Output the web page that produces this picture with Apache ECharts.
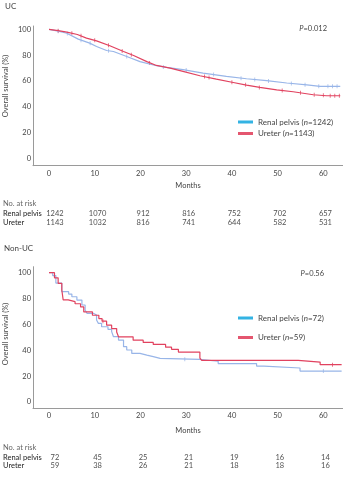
<!DOCTYPE html>
<html>
<head>
<meta charset="utf-8">
<script src="https://cdn.jsdelivr.net/npm/echarts@6/dist/echarts.min.js"></script>
<style>
  html, body { margin: 0; padding: 0; background: #fff; }
  #chart { width: 343px; height: 477px; }
</style>
</head>
<body>
<div id="chart"></div>
<script>
const FONT = 'Lato, sans-serif';
const monthTicks = [0, 10, 20, 30, 40, 50, 60];
const survTicks = [0, 20, 40, 60, 80, 100];
const groups = ['Renal pelvis', 'Ureter'];

// UC curves [month, survival %]
const ucPelvis = [[0,100],[2,98.6],[3.9,97],[6.4,92.4],[8.9,89.3],[10.4,86.7],[12.6,83.6],[14.1,82.8],[17,78.9],[19.9,75],[23.5,71.8],[25.7,70.5],[29.3,68.7],[33.7,66.1],[38.8,63.5],[43.2,61.7],[47.6,60.2],[52,58.4],[56.4,56.9],[59.3,55.8],[63.7,55.8]];
const ucUreter = [[0,100],[2,99],[3.9,97.8],[6.2,96],[8.2,93.2],[10.4,91.1],[13.3,87.3],[16.3,82.8],[18.5,79.7],[21.4,75],[23.5,72],[26.5,69.9],[29.3,67.4],[33,64],[36.6,61.4],[40.3,58.8],[43.2,56.8],[46.1,55],[49.8,53.1],[53.4,51.6],[57.8,49.3],[60.7,48.5],[63.7,48.5]];
const ucPelvisCens = [[2,98.6],[4,96.8],[7,91.6],[9,89.2],[13,83.4],[17,78.9],[25,70.8],[30,68.4],[36,64.9],[42,62.1],[45,61.2],[48,60],[53,58.1],[56,57],[59,55.9],[61,55.8],[62,55.8],[63,55.8]];
const ucUreterCens = [[2,99],[5,96.9],[7,95],[10,91.5],[13,87.7],[16,83.2],[18,80.3],[22,74],[34,63.4],[35,62.7],[40,59],[43,57],[46,55],[51,52.6],[55,50.8],[58,49.2],[60,48.8],[61.5,48.5],[62.5,48.5],[63.5,48.5]];

// Non-UC curves (step)
const nonPelvis = [[0,100],[0.8,97.8],[1.5,92],[2.8,85.3],[4.3,83.5],[5,81.4],[6.1,78.8],[7.2,75],[7.9,71.1],[8.3,68.6],[9.7,67.3],[10.4,63.4],[10.8,60.8],[11.5,58.2],[12.9,56.2],[13.7,54.4],[14.1,50.5],[15.2,47.9],[16.3,42.8],[17,40.2],[18.1,37.6],[19.9,36.3],[21.4,35.1],[22.8,33.8],[24.3,33],[33,31.5],[37,29.7],[45.4,27.8],[47,26.3],[54.9,23.9],[64,23.9]];
const nonUreter = [[0,100],[1.2,96],[2,91.8],[2.8,86.6],[3.1,79],[4.2,77.6],[5.7,76],[6.9,73.5],[7.6,69.7],[9.5,67.1],[10.9,64.5],[11.6,62.5],[12.6,59.4],[13.7,56.8],[14.8,54.2],[15.2,50.4],[18.4,47.8],[20.6,46.1],[22.8,44.5],[25.5,42.4],[26.8,40.7],[28.3,38.6],[33,34],[33.4,32.2],[54.5,30.9],[59.3,28.9],[64,28.9]];
const nonPelvisCens = [[29.7,33],[60,23.9]];
const nonUreterCens = [[11.8,62.5],[62,28.9]];

// numbers at risk
const riskUcPelvis = [1242, 1070, 912, 816, 752, 702, 657];
const riskUcUreter = [1143, 1032, 816, 741, 644, 582, 531];
const riskNonPelvis = [72, 45, 25, 21, 19, 16, 14];
const riskNonUreter = [59, 38, 26, 21, 18, 18, 16];

const nameUc = ['Renal pelvis (n=1242)', 'Ureter (n=1143)'];
const nameNon = ['Renal pelvis (n=72)', 'Ureter (n=59)'];

const blue = '#98b5e8', red = '#e1425f';
const legBlue = '#33b3e3', legRed = '#e4566f';
const txt = '#444';

const chart = echarts.init(document.getElementById('chart'));

function plotX(grid, nameGap) {
  return {
    gridIndex: grid, type: 'value', min: -3.5, max: 64.3,
    name: 'Months', nameLocation: 'middle', nameGap: nameGap,
    nameTextStyle: { fontSize: 7.5, color: txt, fontFamily: FONT },
    axisLine: { show: true, onZero: false, lineStyle: { color: '#9a9a9a', width: 1 } },
    axisTick: { show: false }, splitLine: { show: false },
    axisLabel: { customValues: monthTicks, margin: 4, fontSize: 7.5, color: txt, fontFamily: FONT }
  };
}
function plotY(grid, min, max) {
  return {
    gridIndex: grid, type: 'value', min: min, max: max,
    axisLine: { show: true, onZero: false, lineStyle: { color: '#9a9a9a', width: 1 } },
    axisTick: { show: false }, splitLine: { show: false },
    axisLabel: { customValues: survTicks, margin: 2, fontSize: 7.5, color: txt, fontFamily: FONT }
  };
}
function riskX(grid) {
  return { gridIndex: grid, type: 'value', min: -3.5, max: 64.3, show: false };
}
function riskY(grid) {
  return {
    gridIndex: grid, type: 'category', data: groups, inverse: true,
    axisLine: { show: false }, axisTick: { show: false }, splitLine: { show: false },
    axisLabel: { interval: 0, align: 'left', margin: 31, fontSize: 7.5, color: '#222', fontFamily: FONT }
  };
}
function curve(name, data, color, xi, step) {
  return {
    name: name, type: 'line', xAxisIndex: xi, yAxisIndex: xi, data: data,
    step: step ? 'end' : false, showSymbol: false, silent: true,
    lineStyle: { color: color, width: 1.2 }, itemStyle: { color: color }
  };
}
function cens(name, data, color, xi) {
  return {
    name: name, type: 'scatter', xAxisIndex: xi, yAxisIndex: xi, data: data,
    symbol: 'rect', symbolSize: [0.9, 4], silent: true, itemStyle: { color: color }
  };
}
function risk(name, counts, row, xi) {
  return {
    name: name, type: 'scatter', xAxisIndex: xi, yAxisIndex: xi, symbolSize: 0, silent: true,
    data: counts.map((c, i) => ({
      value: [monthTicks[i], row, c],
      label: { offset: [i === 0 ? 5 : 2, 0] }
    })),
    label: {
      show: true, position: 'inside', formatter: p => p.value[2],
      fontSize: 7.5, color: '#222', fontFamily: FONT
    }
  };
}
function legend(names, top, gap) {
  return {
    orient: 'vertical', left: 233, top: top, itemWidth: 15, itemHeight: 3, icon: 'rect',
    itemGap: gap, selectedMode: false,
    data: [
      { name: names[0], itemStyle: { color: legBlue } },
      { name: names[1], itemStyle: { color: legRed } }
    ],
    formatter: n => n.replace('(n=', '({i|n}='),
    textStyle: {
      fontSize: 8, color: txt, fontFamily: FONT,
      rich: { i: { fontStyle: 'italic', fontSize: 8, color: txt, fontFamily: FONT } }
    }
  };
}
function label(text, left, top, extra) {
  return Object.assign({
    text: text, left: left, top: top, padding: 0,
    textStyle: {
      fontSize: 7.5, fontWeight: 'normal', color: txt, fontFamily: FONT,
      rich: { i: { fontStyle: 'italic', fontSize: 7.5, color: txt, fontFamily: FONT } }
    }
  }, extra || {});
}

chart.setOption({
  animation: false,
  title: [
    label('UC', 5, 2, { textStyle: { fontSize: 8, fontWeight: 'normal', color: txt, fontFamily: FONT } }),
    label('Non-UC', 4, 244, { textStyle: { fontSize: 8, fontWeight: 'normal', color: txt, fontFamily: FONT } }),
    label('{i|P}=0.012', null, 25, { right: 16 }),
    label('{i|P}=0.56', null, 270, { right: 19 }),
    label('No. at risk', 3, 200, { textStyle: { fontSize: 7.5, color: '#666', fontFamily: FONT, fontWeight: 'normal' } }),
    label('No. at risk', 3, 444, { textStyle: { fontSize: 7.5, color: '#666', fontFamily: FONT, fontWeight: 'normal' } })
  ],
  graphic: [
    { type: 'text', x: 6, y: 86, rotation: Math.PI / 2,
      style: { text: 'Overall survival (%)', fill: txt, fontSize: 7.5, fontFamily: FONT, align: 'center', verticalAlign: 'middle' } },
    { type: 'text', x: 6, y: 334, rotation: Math.PI / 2,
      style: { text: 'Overall survival (%)', fill: txt, fontSize: 7.5, fontFamily: FONT, align: 'center', verticalAlign: 'middle' } }
  ],
  legend: [legend(nameUc, 113, 3.5), legend(nameNon, 309, 11.5)],
  grid: [
    { left: 33, top: 26, width: 310, height: 139.7 },
    { left: 33, top: 208.6, width: 310, height: 18.7 },
    { left: 33, top: 266.7, width: 310, height: 141.3 },
    { left: 33, top: 452.9, width: 310, height: 17.4 }
  ],
  xAxis: [plotX(0, 16), riskX(1), plotX(2, 19), riskX(3)],
  yAxis: [plotY(0, -5.74, 102.6), riskY(1), plotY(2, -4.64, 104.64), riskY(3)],
  series: [
    curve(nameUc[0], ucPelvis, blue, 0, false),
    curve(nameUc[1], ucUreter, red, 0, false),
    cens('ucPelvisCens', ucPelvisCens, blue, 0),
    cens('ucUreterCens', ucUreterCens, red, 0),
    risk('riskUcPelvis', riskUcPelvis, groups[0], 1),
    risk('riskUcUreter', riskUcUreter, groups[1], 1),
    curve(nameNon[0], nonPelvis, blue, 2, true),
    curve(nameNon[1], nonUreter, red, 2, true),
    cens('nonPelvisCens', nonPelvisCens, blue, 2),
    cens('nonUreterCens', nonUreterCens, red, 2),
    risk('riskNonPelvis', riskNonPelvis, groups[0], 3),
    risk('riskNonUreter', riskNonUreter, groups[1], 3)
  ]
});
</script>
</body>
</html>
